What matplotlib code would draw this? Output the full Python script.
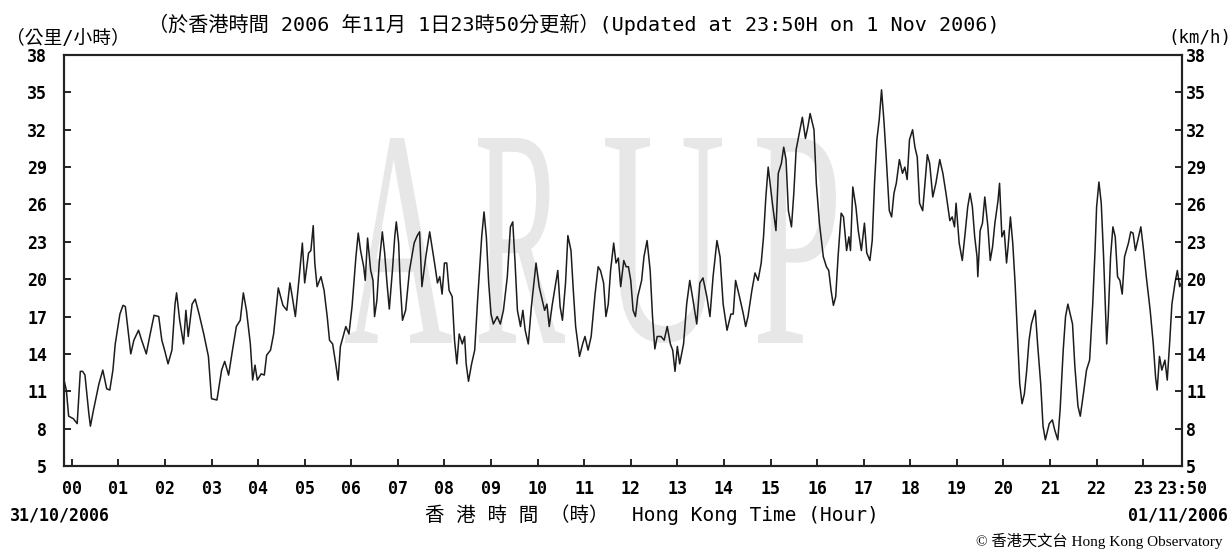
import matplotlib
matplotlib.use("Agg")
import matplotlib.pyplot as plt
from matplotlib.textpath import TextPath
from matplotlib.patches import PathPatch
from matplotlib.font_manager import FontProperties
from matplotlib.transforms import Affine2D, IdentityTransform

# minutes after 00:00 on 01/11/2006 (-10 = 23:50 on 31/10)
minutes = [
    -10, -7, -4, 2, 7, 11, 14, 17, 22, 24, 28, 35, 40, 45, 49, 53, 56, 62, 66, 69,
    73, 76, 80, 86, 90, 96, 101, 106, 112, 116, 120, 124, 129, 133, 135, 139, 144, 147, 150, 155,
    159, 164, 170, 176, 180, 187, 193, 197, 202, 207, 212, 217, 221, 225, 230, 233, 236, 239, 244, 248,
    251, 256, 260, 266, 272, 277, 281, 284, 288, 293, 297, 300, 305, 308, 311, 313, 316, 321, 325, 329,
    332, 336, 340, 343, 346, 353, 357, 361, 366, 369, 372, 376, 378, 381, 385, 388, 390, 393, 396, 400,
    403, 406, 409, 413, 416, 418, 421, 423, 426, 430, 435, 441, 445, 448, 451, 456, 461, 464, 468, 471,
    474, 477, 480, 483, 486, 490, 493, 496, 499, 503, 506, 508, 511, 515, 519, 523, 528, 531, 534, 537,
    540, 543, 548, 552, 556, 561, 565, 568, 571, 574, 578, 581, 584, 588, 592, 598, 602, 606, 609, 612,
    615, 619, 626, 629, 632, 636, 639, 643, 646, 649, 654, 658, 661, 665, 669, 674, 678, 681, 685, 688,
    691, 694, 698, 701, 704, 707, 711, 714, 717, 720, 723, 726, 729, 734, 737, 741, 745, 748, 751, 754,
    759, 763, 767, 771, 774, 777, 780, 783, 788, 792, 796, 801, 805, 809, 813, 818, 822, 826, 831, 835,
    839, 844, 849, 852, 855, 860, 865, 868, 871, 876, 880, 884, 888, 891, 894, 897, 900, 903, 907, 910,
    914, 917, 920, 923, 927, 930, 933, 938, 941, 945, 948, 951, 956, 959, 963, 968, 972, 975, 978, 981,
    984, 987, 991, 994, 998, 1001, 1003, 1006, 1010, 1013, 1017, 1021, 1024, 1028, 1031, 1034, 1037, 1040, 1043, 1046,
    1049, 1053, 1056, 1059, 1062, 1066, 1070, 1073, 1076, 1079, 1083, 1086, 1089, 1092, 1096, 1099, 1102, 1105, 1109, 1113,
    1118, 1122, 1126, 1131, 1134, 1137, 1139, 1143, 1147, 1151, 1154, 1157, 1160, 1163, 1166, 1167, 1170, 1173, 1176, 1180,
    1183, 1186, 1189, 1193, 1195, 1198, 1201, 1204, 1206, 1209, 1212, 1215, 1218, 1221, 1224, 1227, 1230, 1233, 1236, 1241,
    1244, 1248, 1251, 1254, 1259, 1263, 1266, 1270, 1273, 1277, 1280, 1283, 1286, 1289, 1292, 1296, 1299, 1303, 1307, 1311,
    1315, 1318, 1320, 1323, 1326, 1329, 1331, 1333, 1335, 1338, 1341, 1344, 1347, 1350, 1353, 1356, 1361, 1364, 1367, 1370,
    1374, 1377, 1380, 1384, 1389, 1393, 1396, 1398, 1401, 1404, 1408, 1411, 1414, 1417, 1421, 1424, 1427, 1430,
]
speed = [
    11.9, 11.1, 9.0, 8.8, 8.4, 12.6, 12.6, 12.3, 9.2, 8.2, 9.5, 11.6, 12.7, 11.2, 11.1, 12.7, 14.8, 17.2, 17.9, 17.8,
    15.6, 14.0, 15.1, 15.9, 15.1, 14.0, 15.6, 17.1, 17.0, 15.1, 14.2, 13.2, 14.3, 18.0, 18.9, 16.7, 14.8, 17.5, 15.4, 18.0,
    18.4, 17.2, 15.6, 13.8, 10.4, 10.3, 12.7, 13.4, 12.3, 14.3, 16.2, 16.7, 18.9, 17.5, 14.8, 11.9, 13.1, 11.9, 12.4, 12.3,
    13.9, 14.3, 15.6, 19.3, 17.9, 17.5, 19.7, 18.6, 17.0, 20.2, 22.9, 19.7, 22.1, 22.3, 24.3, 21.3, 19.4, 20.2, 19.1, 17.0,
    15.1, 14.8, 13.2, 11.9, 14.6, 16.2, 15.6, 17.8, 21.8, 23.7, 22.3, 21.0, 19.9, 23.3, 20.7, 19.9, 17.0, 18.3, 21.3, 23.8,
    22.1, 19.7, 17.6, 20.7, 23.4, 24.6, 22.9, 19.7, 16.7, 17.5, 20.7, 22.9, 23.5, 23.8, 19.4, 21.8, 23.8, 22.6, 21.0, 19.7,
    20.2, 18.8, 21.3, 21.3, 19.1, 18.6, 15.1, 13.2, 15.6, 14.8, 15.4, 13.2, 11.8, 13.2, 14.3, 18.6, 23.4, 25.4, 23.4, 19.7,
    17.2, 16.4, 17.0, 16.4, 17.5, 20.2, 24.2, 24.6, 21.3, 17.5, 16.2, 17.5, 15.9, 14.8, 17.8, 21.3, 19.4, 18.3, 17.5, 18.0,
    16.2, 18.0, 20.7, 17.8, 16.7, 19.7, 23.5, 22.3, 19.1, 16.2, 13.8, 14.8, 15.4, 14.3, 15.4, 18.8, 21.0, 20.7, 19.7, 17.0,
    18.0, 20.7, 22.9, 21.3, 21.7, 19.4, 21.5, 21.0, 21.0, 19.9, 17.5, 17.0, 18.6, 19.9, 21.8, 23.1, 20.7, 17.0, 14.4, 15.4,
    15.4, 15.1, 16.2, 14.8, 14.3, 12.6, 14.6, 13.2, 14.8, 18.0, 19.9, 18.0, 16.4, 19.7, 20.1, 18.6, 17.0, 20.2, 23.1, 21.8,
    18.0, 15.9, 17.2, 17.2, 19.9, 18.6, 17.2, 16.2, 17.0, 19.1, 20.5, 19.9, 21.3, 23.4, 26.6, 29.0, 27.4, 25.8, 23.9, 28.5,
    29.3, 30.6, 29.6, 25.5, 24.2, 26.9, 30.4, 32.0, 33.0, 31.3, 32.2, 33.3, 32.0, 27.7, 24.5, 21.8, 21.0, 20.7, 19.1, 17.9,
    18.6, 21.8, 25.3, 25.0, 22.3, 23.4, 22.3, 27.4, 25.8, 23.9, 22.3, 24.5, 22.1, 21.5, 23.1, 27.7, 31.2, 32.8, 35.2, 32.8,
    29.8, 25.5, 25.0, 26.9, 27.7, 29.6, 28.5, 29.0, 28.0, 31.2, 32.0, 30.6, 29.8, 26.1, 25.5, 27.7, 30.0, 29.3, 26.6, 27.7,
    29.6, 28.5, 26.9, 24.7, 25.0, 24.2, 26.1, 22.9, 21.5, 23.9, 25.8, 26.9, 25.8, 23.4, 21.8, 20.2, 23.9, 24.5, 26.6, 24.2,
    21.5, 22.6, 24.5, 26.3, 27.7, 23.4, 23.9, 21.3, 22.6, 25.0, 22.9, 19.7, 15.6, 11.6, 10.0, 10.8, 12.7, 15.1, 16.4, 17.5,
    14.8, 11.6, 8.2, 7.1, 8.4, 8.7, 7.9, 7.1, 9.5, 14.3, 17.0, 18.0, 17.2, 16.4, 13.0, 9.8, 9.0, 10.8, 12.7, 13.5,
    18.0, 22.3, 25.8, 27.8, 26.1, 21.8, 18.3, 14.8, 17.0, 21.8, 24.2, 23.4, 20.2, 19.9, 18.8, 21.8, 22.9, 23.8, 23.7, 22.3,
    23.4, 24.2, 22.6, 20.2, 17.5, 14.8, 12.1, 11.1, 13.8, 12.7, 13.5, 11.9, 14.8, 18.0, 19.7, 20.7, 19.4, 19.8,
]
hour_ticks = list(range(0, 1440, 60)) + [1430]
hour_labels = ["%02d" % h for h in range(24)] + ["23:50"]
y_ticks = list(range(5, 39, 3))

W, H = 1232, 553
fig = plt.figure(figsize=(W / 100, H / 100), dpi=100)
ax = fig.add_axes([64 / W, 1 - 466 / H, (1182 - 64) / W, (466 - 55) / H])

mono_b = dict(family="DejaVu Sans Mono", weight="bold", size=12)

# faint ARUP watermark, letters squeezed horizontally
fp = FontProperties(family="Liberation Serif")
letter_boxes = [("A", 345, 452), ("R", 478, 565), ("U", 605, 722), ("P", 757, 836)]
top_px, bot_px = 138, 343
for ch, x0, x1 in letter_boxes:
    tp = TextPath((0, 0), ch, size=100, prop=fp)
    ext = tp.get_extents()
    tr = (Affine2D().translate(-ext.x0, -ext.y0)
          .scale((x1 - x0) / ext.width, (bot_px - top_px) / ext.height)
          .translate(x0, H - bot_px))
    patch = PathPatch(tr.transform_path(tp), transform=IdentityTransform(),
                      facecolor="#e7e7e7", edgecolor="none", zorder=1)
    ax.add_artist(patch)

ax.plot(minutes, speed, color="#1c1c1c", lw=1.1, zorder=3)

ax.set_xlim(-10, 1430)
ax.set_ylim(5, 38)
ax.set_xticks(hour_ticks)
ax.set_xticklabels(hour_labels, fontdict=mono_b)
ax.set_yticks(y_ticks)
ax.set_yticklabels([str(v) for v in y_ticks], fontdict=mono_b)
ax.tick_params(axis="x", direction="in", length=5, width=1.2, pad=10)
ax.tick_params(axis="y", direction="in", length=5, width=1.2, pad=12)

ax2 = ax.twinx()
ax2.set_ylim(5, 38)
ax2.set_yticks(y_ticks)
ax2.set_yticklabels([str(v) for v in y_ticks], fontdict=mono_b)
ax2.tick_params(axis="y", direction="in", length=5, width=1.2, pad=3)

for a in (ax, ax2):
    for s in a.spines.values():
        s.set_linewidth(1.5)
        s.set_color("#222222")

cjk_mono = ["DejaVu Sans Mono", "Noto Sans CJK TC"]
fig.text(148 / W, 1 - 24 / H,
         "（於香港時間 2006 年11月 1日23時50分更新）(Updated at 23:50H on 1 Nov 2006)",
         family=cjk_mono, size=14.5, va="center", ha="left")
fig.text(6 / W, 1 - 38 / H, "（公里/小時）", family=cjk_mono, size=13.5,
         va="center", ha="left")
fig.text(1231 / W, 1 - 38 / H, "(km/h)", family="DejaVu Sans Mono", size=12.5,
         va="center", ha="right")

fig.text(10 / W, 1 - 515 / H, "31/10/2006", va="center", ha="left", **mono_b)
fig.text(1228 / W, 1 - 515 / H, "01/11/2006", va="center", ha="right", **mono_b)
fig.text(652 / W, 1 - 515 / H, "香 港 時 間 （時）  Hong Kong Time (Hour)",
         family=cjk_mono, size=14, va="center", ha="center")
fig.text(1222 / W, 1 - 541 / H, "© 香港天文台 Hong Kong Observatory",
         family=["Liberation Serif", "Noto Sans CJK TC"], size=11,
         va="center", ha="right")

fig.savefig("out.png", dpi=100)
